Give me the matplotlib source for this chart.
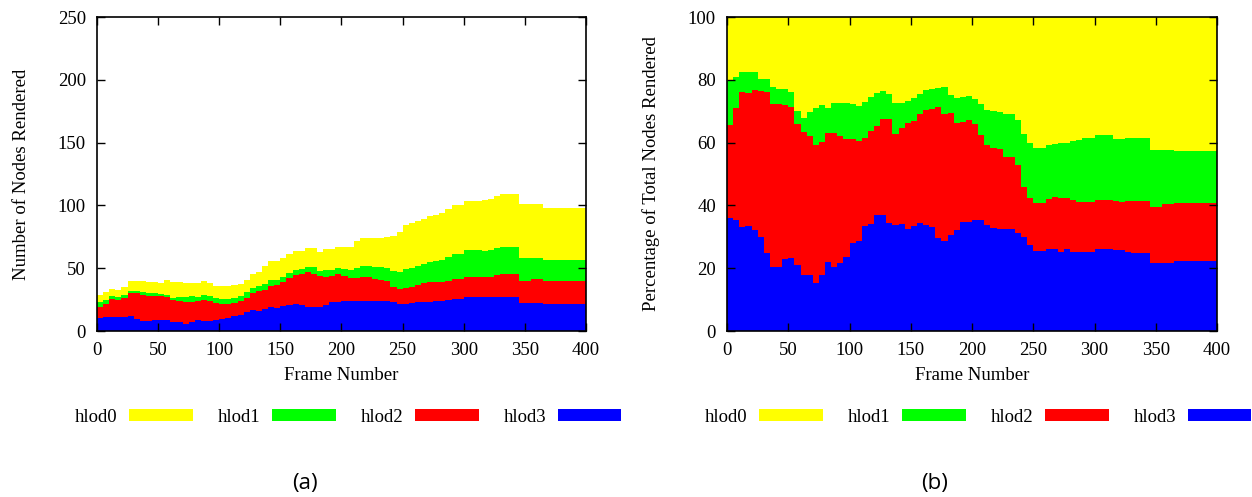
import numpy as np
import matplotlib
matplotlib.use("Agg")
import matplotlib.pyplot as plt
from matplotlib.patches import Patch

# ---------------- data ----------------
frames = list(range(0, 400, 5))          # start frame of each 5-frame step
frame_end = 400

total_nodes = [28.7, 30.8, 33.4, 33.0, 34.7, 39.8, 39.8, 39.8, 39.0, 39.0,
               38.5, 40.6, 39.3, 39.0, 38.5, 38.5, 38.0, 39.8, 38.0, 36.1,
               35.5, 35.5, 36.4, 37.2, 40.6, 45.0, 47.2, 51.7, 55.7, 55.7,
               58.4, 61.3, 63.7, 63.7, 65.8, 65.8, 63.2, 65.3, 65.3, 67.2,
               66.6, 67.0, 71.5, 73.8, 74.2, 74.2, 73.8, 75.1, 76.0, 79.0,
               84.0, 85.7, 87.9, 89.0, 91.5, 92.4, 93.7, 97.0, 100.3, 100.3,
               103.2, 103.2, 103.2, 104.4, 105.1, 107.8, 109.1, 109.1, 109.1, 101.1,
               101.1, 101.1, 101.1, 98.2, 98.2, 98.2, 98.2, 98.2, 98.2, 98.2]

pct_hlod3 = [36.0, 35.4, 33.2, 33.3, 32.3, 30.0, 24.9, 20.3, 20.3, 22.8,
             23.4, 21.0, 17.7, 17.7, 15.4, 17.8, 22.0, 20.3, 21.6, 23.5,
             27.9, 28.6, 33.4, 34.0, 37.0, 37.0, 34.3, 33.6, 34.0, 32.4,
             33.5, 34.3, 33.8, 33.0, 29.5, 28.7, 30.5, 32.2, 34.8, 34.8,
             35.5, 35.3, 33.8, 32.7, 32.5, 32.4, 32.4, 31.3, 30.0, 27.4,
             25.6, 25.6, 26.0, 26.0, 25.2, 26.0, 25.1, 25.1, 25.1, 25.1,
             26.1, 26.1, 26.1, 25.8, 25.8, 25.2, 25.0, 25.0, 25.0, 21.8,
             21.8, 21.8, 21.8, 22.2, 22.2, 22.2, 22.2, 22.2, 22.2, 22.2]

pct_hlod2 = [29.6, 35.5, 42.8, 42.4, 44.5, 46.5, 51.1, 52.0, 52.0, 49.2,
             48.0, 45.0, 45.8, 44.3, 43.8, 42.5, 41.0, 42.7, 40.4, 37.5,
             33.1, 31.8, 28.1, 29.8, 28.3, 30.5, 33.2, 29.1, 30.8, 33.9,
             33.3, 34.8, 36.6, 37.8, 41.9, 40.5, 39.0, 34.1, 31.9, 32.3,
             30.5, 27.2, 25.4, 25.7, 25.5, 23.1, 23.1, 21.7, 16.0, 15.1,
             15.1, 15.1, 16.0, 16.6, 17.1, 16.3, 16.7, 16.1, 16.1, 16.1,
             15.6, 15.6, 15.6, 15.7, 15.4, 16.1, 16.4, 16.4, 16.4, 17.8,
             17.8, 18.8, 18.8, 18.6, 18.6, 18.6, 18.6, 18.6, 18.6, 18.6]

pct_hlod1 = [14.0, 10.1, 6.4, 6.7, 5.7, 3.7, 4.2, 5.5, 4.8, 5.1,
             4.6, 4.0, 4.2, 7.9, 11.8, 11.7, 8.0, 9.7, 10.7, 11.7,
             11.3, 11.3, 11.5, 10.8, 10.4, 9.0, 8.0, 9.9, 7.8, 7.1,
             7.3, 6.3, 6.2, 6.2, 5.9, 8.4, 5.6, 7.8, 7.7, 7.7,
             8.0, 9.7, 11.2, 11.8, 11.9, 13.6, 13.6, 14.2, 16.8, 17.3,
             17.6, 17.6, 17.2, 16.9, 17.6, 17.6, 18.7, 19.6, 20.3, 20.3,
             20.7, 20.7, 20.7, 19.5, 19.9, 20.2, 20.0, 20.0, 20.0, 18.0,
             18.0, 17.0, 17.0, 16.6, 16.6, 16.6, 16.6, 16.6, 16.6, 16.6]

labels = ["hlod0", "hlod1", "hlod2", "hlod3"]
colors = ["#ffff00", "#00ff00", "#ff0000", "#0000ff"]

# ---------------- derived series ----------------
p3 = np.array(pct_hlod3)
p2 = np.array(pct_hlod2)
p1 = np.array(pct_hlod1)
p0 = 100.0 - p1 - p2 - p3
pcts = [p0, p1, p2, p3]                      # hlod0 .. hlod3
tot = np.array(total_nodes)
counts = [p * tot / 100.0 for p in pcts]

x = np.append(frames, frame_end)


def ext(a):
    return np.append(a, a[-1])


def stacked(ax, series):
    # stack from hlod3 (bottom) to hlod0 (top)
    base = np.zeros(len(frames))
    for i in [3, 2, 1, 0]:
        top = base + series[i]
        ax.fill_between(x, ext(base), ext(top), step="post",
                        color=colors[i], linewidth=0, antialiased=False)
        base = top


FS = 13.5
plt.rcParams["font.family"] = ["Liberation Serif", "DejaVu Serif"]
plt.rcParams["font.size"] = FS

fig = plt.figure(figsize=(12.52, 4.97), dpi=100)
W, H = 1252.0, 497.0
axL = fig.add_axes([97 / W, 1 - 331 / H, (586 - 97) / W, (331 - 17) / H])
axR = fig.add_axes([727 / W, 1 - 331 / H, (1217 - 727) / W, (331 - 17) / H])

stacked(axL, counts)
stacked(axR, pcts)

for ax, ymax, ystep, ylab in [(axL, 250, 50, "Number of Nodes Rendered"),
                             (axR, 100, 20, "Percentage of Total Nodes Rendered")]:
    ax.set_xlim(0, 400)
    ax.set_ylim(0, ymax)
    ax.set_xticks(np.arange(0, 401, 50))
    ax.set_yticks(np.arange(0, ymax + 1, ystep))
    ax.tick_params(direction="in", length=6, width=1, top=True, right=True,
                   labelsize=FS, pad=8)
    ax.set_xlabel("Frame Number", fontsize=FS, labelpad=6)
    ax.set_ylabel(ylab, fontsize=FS, labelpad=20)
    for s in ax.spines.values():
        s.set_linewidth(1.2)
        s.set_color("black")
    ax.set_axisbelow(False)

handles = [Patch(facecolor=c, edgecolor="none") for c in colors]
for left_px in [75, 705]:
    fig.legend(handles, labels, loc="center left",
               bbox_to_anchor=(left_px / W, 1 - 417 / H),
               bbox_transform=fig.transFigure, ncol=4, frameon=False,
               markerfirst=False, handlelength=3.4, handleheight=0.55,
               handletextpad=0.6, columnspacing=1.35, borderpad=0,
               borderaxespad=0, fontsize=FS)

fig.text(305 / W, 1 - 483 / H, "(a)", ha="center", va="center",
         fontsize=16, family=["Open Sans", "DejaVu Sans"])
fig.text(935 / W, 1 - 483 / H, "(b)", ha="center", va="center",
         fontsize=16, family=["Open Sans", "DejaVu Sans"])

fig.savefig("out.png", dpi=100)
